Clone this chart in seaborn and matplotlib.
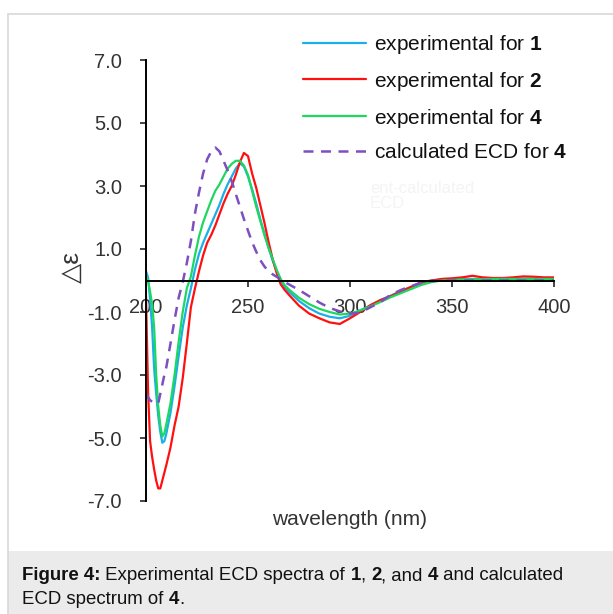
import numpy as np
import pandas as pd
import matplotlib
matplotlib.use('Agg')
import matplotlib.pyplot as plt
import seaborn as sns
from matplotlib.patches import Rectangle
from matplotlib.lines import Line2D

# wavelength grid (nm)
wavelength = [200, 201, 202, 203, 204, 205, 206, 207, 208, 209, 210, 212, 214, 216, 218,
              220, 222, 224, 226, 228, 230, 232, 234, 236, 238, 240, 242, 244, 246, 248,
              250, 252, 254, 256, 258, 260, 262, 264, 266, 268, 270, 275, 280, 285, 290,
              295, 300, 305, 310, 315, 320, 325, 330, 335, 340, 345, 350, 355, 360, 365,
              370, 375, 380, 385, 390, 395, 400]

# experimental for 1 (blue)
exp1 = [0.30, 0.10, -0.60, -1.50, -2.80, -3.60, -4.30, -4.80, -5.15, -5.10, -4.85, -4.20, -3.35, -2.40, -1.50,
        -0.80, -0.25, 0.35, 0.85, 1.20, 1.50, 1.80, 2.10, 2.40, 2.75, 3.05, 3.30, 3.55, 3.72, 3.62,
        3.30, 2.90, 2.45, 1.95, 1.50, 1.05, 0.65, 0.30, 0.00, -0.20, -0.35, -0.65, -0.88, -1.05, -1.15,
        -1.20, -1.12, -0.95, -0.80, -0.62, -0.48, -0.33, -0.20, -0.08, 0.00, 0.03, 0.04, 0.05, 0.05, 0.05,
        0.05, 0.06, 0.06, 0.06, 0.06, 0.06, 0.06]

# experimental for 2 (red)
exp2 = [-0.50, -3.50, -5.10, -5.60, -6.00, -6.35, -6.60, -6.60, -6.35, -6.10, -5.85, -5.30, -4.60, -4.00, -3.10,
        -2.00, -0.85, -0.25, 0.30, 0.80, 1.20, 1.45, 1.75, 2.10, 2.45, 2.75, 3.00, 3.35, 3.75, 4.05,
        3.95, 3.40, 2.95, 2.40, 1.85, 1.25, 0.70, 0.25, -0.12, -0.30, -0.45, -0.80, -1.05, -1.20, -1.33,
        -1.38, -1.20, -1.00, -0.78, -0.62, -0.50, -0.35, -0.20, -0.05, 0.00, 0.05, 0.07, 0.10, 0.15, 0.10,
        0.08, 0.08, 0.10, 0.13, 0.12, 0.10, 0.10]

# experimental for 4 (green)
exp4 = [0.15, 0.00, -0.35, -0.75, -1.50, -3.00, -4.00, -4.60, -4.95, -4.85, -4.55, -3.90, -3.00, -1.95, -1.00,
        -0.25, 0.13, 0.80, 1.40, 1.85, 2.20, 2.55, 2.85, 3.05, 3.30, 3.55, 3.70, 3.80, 3.80, 3.65,
        3.35, 2.85, 2.35, 1.90, 1.45, 1.05, 0.70, 0.35, 0.05, -0.15, -0.28, -0.55, -0.75, -0.90, -1.00,
        -1.08, -1.05, -0.95, -0.82, -0.68, -0.53, -0.40, -0.27, -0.14, -0.05, 0.00, 0.02, 0.03, 0.04, 0.04,
        0.05, 0.05, 0.05, 0.05, 0.05, 0.05, 0.05]

# calculated ECD for 4 (purple dashed)
calc4 = [-3.60, -3.70, -3.80, -3.85, -3.90, -3.90, -3.90, -3.60, -3.30, -3.00, -2.74, -2.00, -1.25, -0.55, -0.05,
         0.55, 1.25, 2.13, 2.80, 3.40, 3.85, 4.10, 4.22, 4.10, 3.80, 3.50, 3.15, 2.75, 2.35, 1.95,
         1.58, 1.22, 0.92, 0.65, 0.45, 0.30, 0.20, 0.12, 0.04, -0.05, -0.12, -0.30, -0.50, -0.70, -0.87,
         -0.98, -1.05, -1.02, -0.85, -0.68, -0.45, -0.30, -0.18, -0.07, -0.02, 0.00, 0.00, 0.00, 0.00, 0.00,
         0.00, 0.00, 0.00, 0.00, 0.00, 0.00, 0.00]

labels = ['experimental for $\\mathbf{1}$', 'experimental for $\\mathbf{2}$',
          'experimental for $\\mathbf{4}$', 'calculated ECD for $\\mathbf{4}$']
colors = ['#1aafe6', '#ff1010', '#1ed760', '#7d4fbf']

yticks = [-7, -5, -3, -1, 1, 3, 5, 7]
ytick_labels = ['-7.0', '-5.0', '-3.0', '-1.0', '1.0', '3.0', '5.0', '7.0']
xticks = [200, 250, 300, 350, 400]
xtick_labels = ['200', '250', '300', '350', '400']

# caption pieces: (text, bold?)
caption_1 = [('Figure 4:', True), (' Experimental ECD spectra of ', False), ('1', True),
             (', ', False), ('2', True), (', and ', False), ('4', True), (' and calculated', False)]
caption_2 = [('ECD spectrum of ', False), ('4', True), ('.', False)]

df = pd.DataFrame({'wl': wavelength, 'e1': exp1, 'e2': exp2, 'e4': exp4, 'c4': calc4})

sns.set_style('white')
plt.rcParams['font.family'] = ['Liberation Sans', 'DejaVu Sans']
plt.rcParams['mathtext.fontset'] = 'custom'
plt.rcParams['mathtext.rm'] = 'Liberation Sans'
plt.rcParams['mathtext.bf'] = 'Liberation Sans:bold'

fig = plt.figure(figsize=(6.13, 6.14), dpi=100)
W, H = 613, 614
renderer = fig.canvas.get_renderer()


def seg_width(s, bold, size):
    # width of a piece of text, trailing spaces included
    t1 = fig.text(0, 0, s + '|', fontsize=size, weight='bold' if bold else 'normal')
    t2 = fig.text(0, 0, '|', fontsize=size, weight='bold' if bold else 'normal')
    w = t1.get_window_extent(renderer).width - t2.get_window_extent(renderer).width
    t1.remove()
    t2.remove()
    return w


def rich_line(x_px, y_px, parts, size):
    x = x_px
    for s, bold in parts:
        fig.text(x / W, 1 - y_px / H, s, fontsize=size, va='center', ha='left',
                 weight='bold' if bold else 'normal', color='#111111')
        x += seg_width(s, bold, size)


# page frame and caption box
fig.add_artist(Line2D([7.5 / W, 1], [1 - 13.5 / H, 1 - 13.5 / H], color='#d8d8d8', lw=1.2))
fig.add_artist(Line2D([7.5 / W, 7.5 / W], [0, 1 - 13.5 / H], color='#d8d8d8', lw=1.2))
fig.add_artist(Rectangle((8 / W, 0), 1, 1 - 551 / H, color='#ebebeb', lw=0))
rich_line(22, 576, caption_1, 13.45)
rich_line(22, 599, caption_2, 13.45)

ax = fig.add_axes([146 / W, 1 - 501 / H, 408 / W, 441 / H])
ax.set_facecolor('none')

for col, lab, c in zip(['e1', 'e2', 'e4'], labels[:3], colors[:3]):
    sns.lineplot(data=df, x='wl', y=col, color=c, lw=1.6, label=lab, ax=ax)
sns.lineplot(data=df, x='wl', y='c4', color=colors[3], lw=1.8, label=labels[3], ax=ax,
             linestyle=(0, (4, 3)))

ax.set_xlim(200, 400)
ax.set_ylim(-7, 7)
ax.spines['top'].set_visible(False)
ax.spines['right'].set_visible(False)
ax.spines['bottom'].set_position(('data', 0))
for s in ['left', 'bottom']:
    ax.spines[s].set_color('black')
    ax.spines[s].set_linewidth(1.4)

ax.set_yticks(yticks)
ax.set_yticklabels(ytick_labels)
ax.set_xticks(xticks)
ax.set_xticklabels(xtick_labels)
ax.tick_params(axis='y', direction='out', length=4.3, width=1.2, pad=13, labelsize=14.5,
               labelcolor='#333333', left=True)
ax.tick_params(axis='x', direction='out', length=4.3, width=1.2, pad=8, labelsize=14.5,
               labelcolor='#333333', bottom=True)

ax.set_xlabel('wavelength (nm)', fontsize=15, color='#333333')
ax.xaxis.set_label_coords(0.5, -0.02)
ax.set_ylabel('△ε', fontsize=19, color='#333333', va='center')
ax.yaxis.set_label_coords(-0.182, 0.53)

leg = ax.legend(loc='upper left', bbox_to_anchor=(303 / W, 1 - 33 / H),
                bbox_transform=fig.transFigure, frameon=False, fontsize=15,
                handlelength=3.0, handletextpad=0.4, labelspacing=0.66,
                borderpad=0, borderaxespad=0)
for t in leg.get_texts():
    t.set_color('#111111')

# faint leftover text in the original image
fig.text(370 / W, 1 - 196 / H, 'ent-calculated\nECD', fontsize=12, color='#f4f4f4',
         va='center', ha='left', linespacing=1.0)

fig.savefig('out.png', dpi=100)
